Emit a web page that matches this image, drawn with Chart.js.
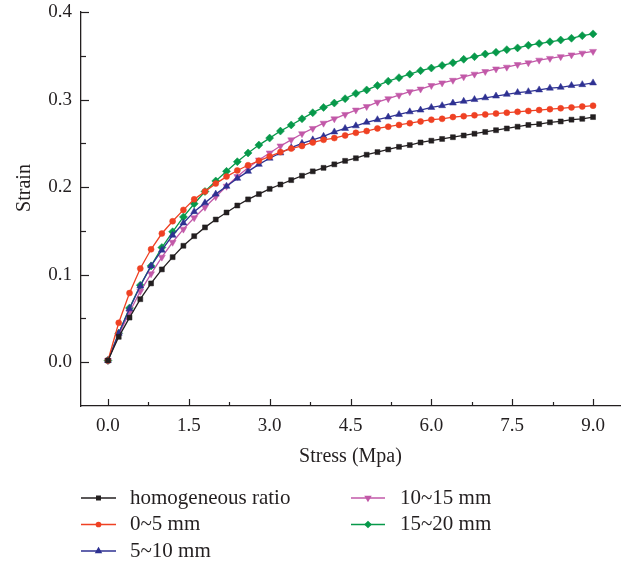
<!DOCTYPE html>
<html>
<head>
<meta charset="utf-8">
<script src="https://cdn.jsdelivr.net/npm/chart.js@4.4.1/dist/chart.umd.min.js"></script>
<style>
  html, body { margin: 0; padding: 0; background: #fff; }
  #wrap { width: 632px; height: 565px; }
</style>
</head>
<body>
<div id="wrap"><canvas id="strainChart" width="632" height="565"></canvas></div>
<script>
// stress (Mpa), one point every 0.2
const stress = [0, 0.2, 0.4, 0.6, 0.8, 1.0, 1.2, 1.4, 1.6, 1.8, 2.0, 2.2, 2.4, 2.6, 2.8, 3.0,
  3.2, 3.4, 3.6, 3.8, 4.0, 4.2, 4.4, 4.6, 4.8, 5.0, 5.2, 5.4, 5.6, 5.8, 6.0, 6.2, 6.4, 6.6,
  6.8, 7.0, 7.2, 7.4, 7.6, 7.8, 8.0, 8.2, 8.4, 8.6, 8.8, 9.0];

const homogeneous = [0.002, 0.029, 0.051, 0.072, 0.090, 0.106, 0.120, 0.133, 0.144, 0.154, 0.163,
  0.171, 0.179, 0.186, 0.192, 0.198, 0.203, 0.208, 0.213, 0.218, 0.222, 0.226, 0.230, 0.233,
  0.237, 0.240, 0.243, 0.246, 0.248, 0.251, 0.253, 0.255, 0.257, 0.259, 0.261, 0.263, 0.265,
  0.267, 0.269, 0.271, 0.272, 0.274, 0.275, 0.277, 0.278, 0.280];

const mm0to5 = [0.002, 0.045, 0.079, 0.107, 0.129, 0.147, 0.161, 0.174, 0.186, 0.195, 0.204,
  0.212, 0.219, 0.225, 0.230, 0.235, 0.240, 0.244, 0.247, 0.251, 0.254, 0.256, 0.259, 0.262,
  0.264, 0.267, 0.269, 0.271, 0.273, 0.275, 0.277, 0.278, 0.280, 0.281, 0.282, 0.283, 0.284,
  0.285, 0.286, 0.287, 0.288, 0.289, 0.290, 0.291, 0.292, 0.293];

const mm5to10 = [0.002, 0.033, 0.061, 0.087, 0.110, 0.128, 0.145, 0.159, 0.172, 0.182, 0.192,
  0.201, 0.210, 0.218, 0.226, 0.233, 0.239, 0.245, 0.250, 0.254, 0.258, 0.263, 0.267, 0.270,
  0.274, 0.277, 0.280, 0.283, 0.286, 0.288, 0.291, 0.293, 0.296, 0.298, 0.300, 0.302, 0.304,
  0.306, 0.308, 0.309, 0.311, 0.313, 0.314, 0.316, 0.317, 0.319];

const mm10to15 = [0.002, 0.031, 0.057, 0.081, 0.101, 0.120, 0.137, 0.152, 0.165, 0.177, 0.189,
  0.201, 0.212, 0.222, 0.231, 0.239, 0.247, 0.254, 0.261, 0.267, 0.273, 0.278, 0.283, 0.288,
  0.292, 0.297, 0.301, 0.305, 0.309, 0.312, 0.316, 0.319, 0.322, 0.326, 0.329, 0.332, 0.335,
  0.337, 0.340, 0.342, 0.345, 0.347, 0.349, 0.351, 0.353, 0.355];

const mm15to20 = [0.002, 0.033, 0.062, 0.088, 0.110, 0.131, 0.149, 0.166, 0.181, 0.195, 0.207,
  0.218, 0.229, 0.239, 0.248, 0.256, 0.264, 0.271, 0.278, 0.285, 0.291, 0.296, 0.301, 0.307,
  0.311, 0.316, 0.321, 0.325, 0.329, 0.333, 0.336, 0.339, 0.342, 0.346, 0.349, 0.352, 0.354,
  0.357, 0.359, 0.362, 0.364, 0.366, 0.368, 0.370, 0.373, 0.375];

const seriesNames = ['homogeneous ratio', '0~5 mm', '5~10 mm', '10~15 mm', '15~20 mm'];
const xTicks = [0, 1.5, 3, 4.5, 6, 7.5, 9];
const xMinor = [0.75, 2.25, 3.75, 5.25, 6.75, 8.25];
const yTicks = [0, 0.1, 0.2, 0.3, 0.4];
const yMinor = [0.05, 0.15, 0.25, 0.35];

const ink = '#231f20';
const serif = '"Liberation Serif", "Times New Roman", serif';

function pts(arr) {
  return stress.map((s, i) => ({ x: s, y: arr[i] }));
}

function series(label, arr, color, style, radius, rotation) {
  return {
    label: label,
    data: pts(arr),
    borderColor: color,
    backgroundColor: color,
    pointBackgroundColor: color,
    pointBorderColor: color,
    borderWidth: 1.3,
    pointStyle: style,
    pointRadius: radius,
    pointRotation: rotation || 0,
    pointBorderWidth: 0.5,
    tension: 0
  };
}

// inward tick marks, y title and a two-column legend
const axisExtras = {
  id: 'axisExtras',
  afterDraw(chart) {
    const ctx = chart.ctx;
    const xs = chart.scales.x, ys = chart.scales.y;
    const area = chart.chartArea;
    ctx.save();
    ctx.strokeStyle = ink;
    ctx.lineWidth = 1.2;
    const tickX = (v, len) => {
      const px = Math.round(xs.getPixelForValue(v)) + 0.5;
      ctx.beginPath(); ctx.moveTo(px, area.bottom); ctx.lineTo(px, area.bottom - len); ctx.stroke();
    };
    const tickY = (v, len) => {
      const py = Math.round(ys.getPixelForValue(v)) + 0.5;
      ctx.beginPath(); ctx.moveTo(area.left, py); ctx.lineTo(area.left + len, py); ctx.stroke();
    };
    xTicks.forEach(v => tickX(v, 7));
    xMinor.forEach(v => tickX(v, 4));
    yTicks.forEach(v => tickY(v, 8));
    yMinor.forEach(v => tickY(v, 5));

    ctx.fillStyle = ink;
    ctx.font = '20px ' + serif;
    ctx.save();
    ctx.translate(25, 188);
    ctx.rotate(-Math.PI / 2);
    ctx.textAlign = 'center';
    ctx.textBaseline = 'middle';
    ctx.fillText('Strain', 0, 0);
    ctx.restore();

    // legend: first three in column one, the rest in column two
    const cols = [{ x0: 81, x1: 116, tx: 130 }, { x0: 351, x1: 385, tx: 400 }];
    const rows = [498, 524.5, 551];
    chart.data.datasets.forEach((ds, i) => {
      const c = cols[i < 3 ? 0 : 1];
      const y = rows[i < 3 ? i : i - 3];
      ctx.strokeStyle = ds.borderColor;
      ctx.fillStyle = ds.borderColor;
      ctx.lineWidth = 1.5;
      ctx.beginPath(); ctx.moveTo(c.x0, y); ctx.lineTo(c.x1, y); ctx.stroke();
      if (Chart.helpers && Chart.helpers.drawPoint) {
        Chart.helpers.drawPoint(ctx, {
          pointStyle: ds.pointStyle, rotation: ds.pointRotation,
          radius: ds.pointRadius * 0.7, borderWidth: 0.5
        }, (c.x0 + c.x1) / 2, y);
      }
      ctx.fillStyle = ink;
      ctx.font = '21px ' + serif;
      ctx.textAlign = 'left';
      ctx.textBaseline = 'middle';
      ctx.fillText(ds.label, c.tx, y);
    });
    ctx.restore();
  }
};

new Chart(document.getElementById('strainChart'), {
  type: 'line',
  data: {
    datasets: [
      series(seriesNames[0], homogeneous, '#231f20', 'rect', 3.5),
      series(seriesNames[1], mm0to5, '#ef4123', 'circle', 3),
      series(seriesNames[2], mm5to10, '#2e3192', 'triangle', 4),
      series(seriesNames[3], mm10to15, '#c259a8', 'triangle', 4, 180),
      series(seriesNames[4], mm15to20, '#07994a', 'rectRot', 4)
    ]
  },
  options: {
    responsive: false,
    animation: false,
    layout: { padding: { left: 0, right: 12, top: 0, bottom: 96 } },
    plugins: { legend: { display: false }, tooltip: { enabled: false } },
    scales: {
      x: {
        type: 'linear',
        min: -0.5,
        max: 9.5,
        afterBuildTicks: s => { s.ticks = xTicks.map(v => ({ value: v })); },
        afterFit: s => { s.height = 63; s.paddingLeft = 0; s.paddingRight = 0; },
        grid: { display: false, drawTicks: false },
        border: { display: true, color: ink, width: 1.3 },
        ticks: {
          color: ink,
          padding: 9,
          maxRotation: 0,
          font: { family: serif, size: 19 },
          callback: v => Number(v).toFixed(1)
        },
        title: {
          display: true,
          text: 'Stress (Mpa)',
          color: ink,
          font: { family: serif, size: 20 },
          padding: { top: 4, bottom: 0 }
        }
      },
      y: {
        min: -0.05,
        max: 0.4,
        afterBuildTicks: s => { s.ticks = yTicks.map(v => ({ value: v })); },
        afterFit: s => { s.width = 81; s.paddingTop = 12; s.paddingBottom = 0; },
        grid: { display: false, drawTicks: false },
        border: { display: true, color: ink, width: 1.3 },
        ticks: {
          color: ink,
          padding: 9,
          font: { family: serif, size: 19 },
          callback: v => Number(v).toFixed(1)
        },
        title: { display: false }
      }
    }
  },
  plugins: [axisExtras]
});
</script>
</body>
</html>
